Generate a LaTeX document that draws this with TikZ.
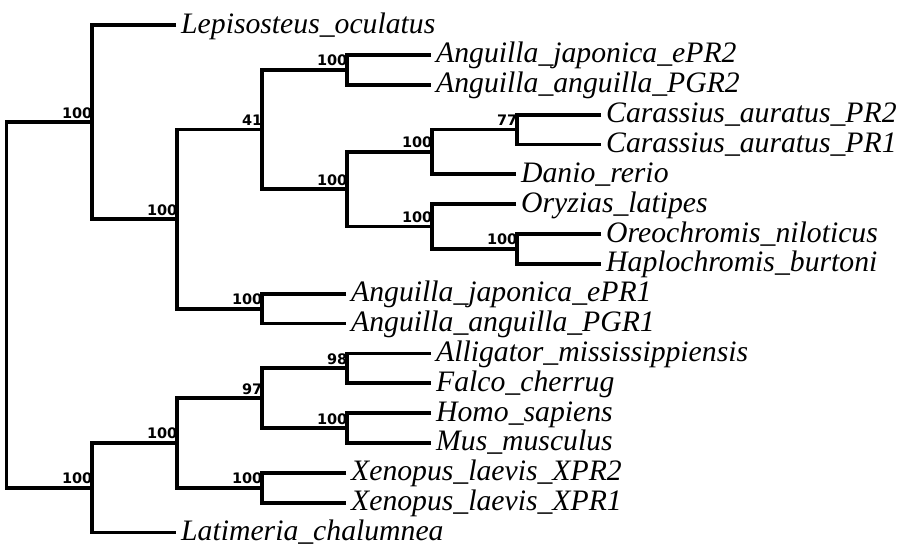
\documentclass[tikz,border=0pt]{standalone}
\usepackage{fontspec}
\setmainfont{Liberation Serif}
\newfontfamily\bootfont{DejaVu Sans}
\tikzset{
  branch/.style={line width=3.8pt, line join=miter, line cap=butt},
  leaf/.style={anchor=base west, inner sep=0pt, xshift=5pt, yshift=-8pt,
    font=\fontsize{29.7}{30}\selectfont\itshape},
  boot/.style={anchor=south east, inner sep=0pt, xshift=0.5pt, yshift=3.5pt,
    font=\bootfont\bfseries\fontsize{14.5}{15}\selectfont}
}
\begin{document}
\begin{tikzpicture}[x=1pt,y=-1pt]
\useasboundingbox (0,0) rectangle (905,546);
% leaf ends
\coordinate (l1) at (176,25.0);
\coordinate (l2) at (431,54.9);
\coordinate (l3) at (431,84.7);
\coordinate (l4) at (601,114.6);
\coordinate (l5) at (601,144.4);
\coordinate (l6) at (516,174.3);
\coordinate (l7) at (516,204.1);
\coordinate (l8) at (601,234.0);
\coordinate (l9) at (601,263.8);
\coordinate (l10) at (346,293.7);
\coordinate (l11) at (346,323.5);
\coordinate (l12) at (431,353.4);
\coordinate (l13) at (431,383.2);
\coordinate (l14) at (431,413.1);
\coordinate (l15) at (431,442.9);
\coordinate (l16) at (346,472.8);
\coordinate (l17) at (346,502.6);
\coordinate (l18) at (176,532.5);
% internal nodes
\coordinate (nD) at (347,69.8);
\coordinate (nG) at (517,129.5);
\coordinate (nF) at (432,151.9);
\coordinate (nI) at (517,248.9);
\coordinate (nH) at (432,226.5);
\coordinate (nE) at (347,189.2);
\coordinate (nC) at (262,129.5);
\coordinate (nJ) at (262,308.6);
\coordinate (nB) at (177,219.0);
\coordinate (nA) at (92,122.0);
\coordinate (nO) at (347,368.3);
\coordinate (nP) at (347,428.0);
\coordinate (nM) at (262,398.2);
\coordinate (nN) at (262,487.7);
\coordinate (nL) at (177,442.9);
\coordinate (nK) at (92,487.7);
\coordinate (nR) at (6.5,304.9);
% leaf labels
\node[leaf] (t1) at (l1) {Lepisosteus\_oculatus};
\node[leaf] (t2) at (l2) {Anguilla\_japonica\_ePR2};
\node[leaf] (t3) at (l3) {Anguilla\_anguilla\_PGR2};
\node[leaf] (t4) at (l4) {Carassius\_auratus\_PR2};
\node[leaf] (t5) at (l5) {Carassius\_auratus\_PR1};
\node[leaf] (t6) at (l6) {Danio\_rerio};
\node[leaf] (t7) at (l7) {Oryzias\_latipes};
\node[leaf] (t8) at (l8) {Oreochromis\_niloticus};
\node[leaf] (t9) at (l9) {Haplochromis\_burtoni};
\node[leaf] (t10) at (l10) {Anguilla\_japonica\_ePR1};
\node[leaf] (t11) at (l11) {Anguilla\_anguilla\_PGR1};
\node[leaf] (t12) at (l12) {Alligator\_mississippiensis};
\node[leaf] (t13) at (l13) {Falco\_cherrug};
\node[leaf] (t14) at (l14) {Homo\_sapiens};
\node[leaf] (t15) at (l15) {Mus\_musculus};
\node[leaf] (t16) at (l16) {Xenopus\_laevis\_XPR2};
\node[leaf] (t17) at (l17) {Xenopus\_laevis\_XPR1};
\node[leaf] (t18) at (l18) {Latimeria\_chalumnea};
% branches
\draw[branch] (l2) -| (nD) |- (l3);
\draw[branch] (l4) -| (nG) |- (l5);
\draw[branch] (nG) -| (nF) |- (l6);
\draw[branch] (l8) -| (nI) |- (l9);
\draw[branch] (l7) -| (nH) |- (nI);
\draw[branch] (nF) -| (nE) |- (nH);
\draw[branch] (nD) -| (nC) |- (nE);
\draw[branch] (l10) -| (nJ) |- (l11);
\draw[branch] (nC) -| (nB) |- (nJ);
\draw[branch] (l1) -| (nA) |- (nB);
\draw[branch] (l12) -| (nO) |- (l13);
\draw[branch] (l14) -| (nP) |- (l15);
\draw[branch] (nO) -| (nM) |- (nP);
\draw[branch] (l16) -| (nN) |- (l17);
\draw[branch] (nM) -| (nL) |- (nN);
\draw[branch] (nL) -| (nK) |- (l18);
\draw[branch] (nA) -| (nR) |- (nK);
% bootstrap values
\node[boot] (bA) at (nA) {100};
\node[boot] (bB) at (nB) {100};
\node[boot] (bC) at (nC) {41};
\node[boot] (bD) at (nD) {100};
\node[boot] (bE) at (nE) {100};
\node[boot] (bF) at (nF) {100};
\node[boot] (bG) at (nG) {77};
\node[boot] (bH) at (nH) {100};
\node[boot] (bI) at (nI) {100};
\node[boot] (bJ) at (nJ) {100};
\node[boot] (bK) at (nK) {100};
\node[boot] (bL) at (nL) {100};
\node[boot] (bM) at (nM) {97};
\node[boot] (bN) at (nN) {100};
\node[boot] (bO) at (nO) {98};
\node[boot] (bP) at (nP) {100};
\end{tikzpicture}
\end{document}
